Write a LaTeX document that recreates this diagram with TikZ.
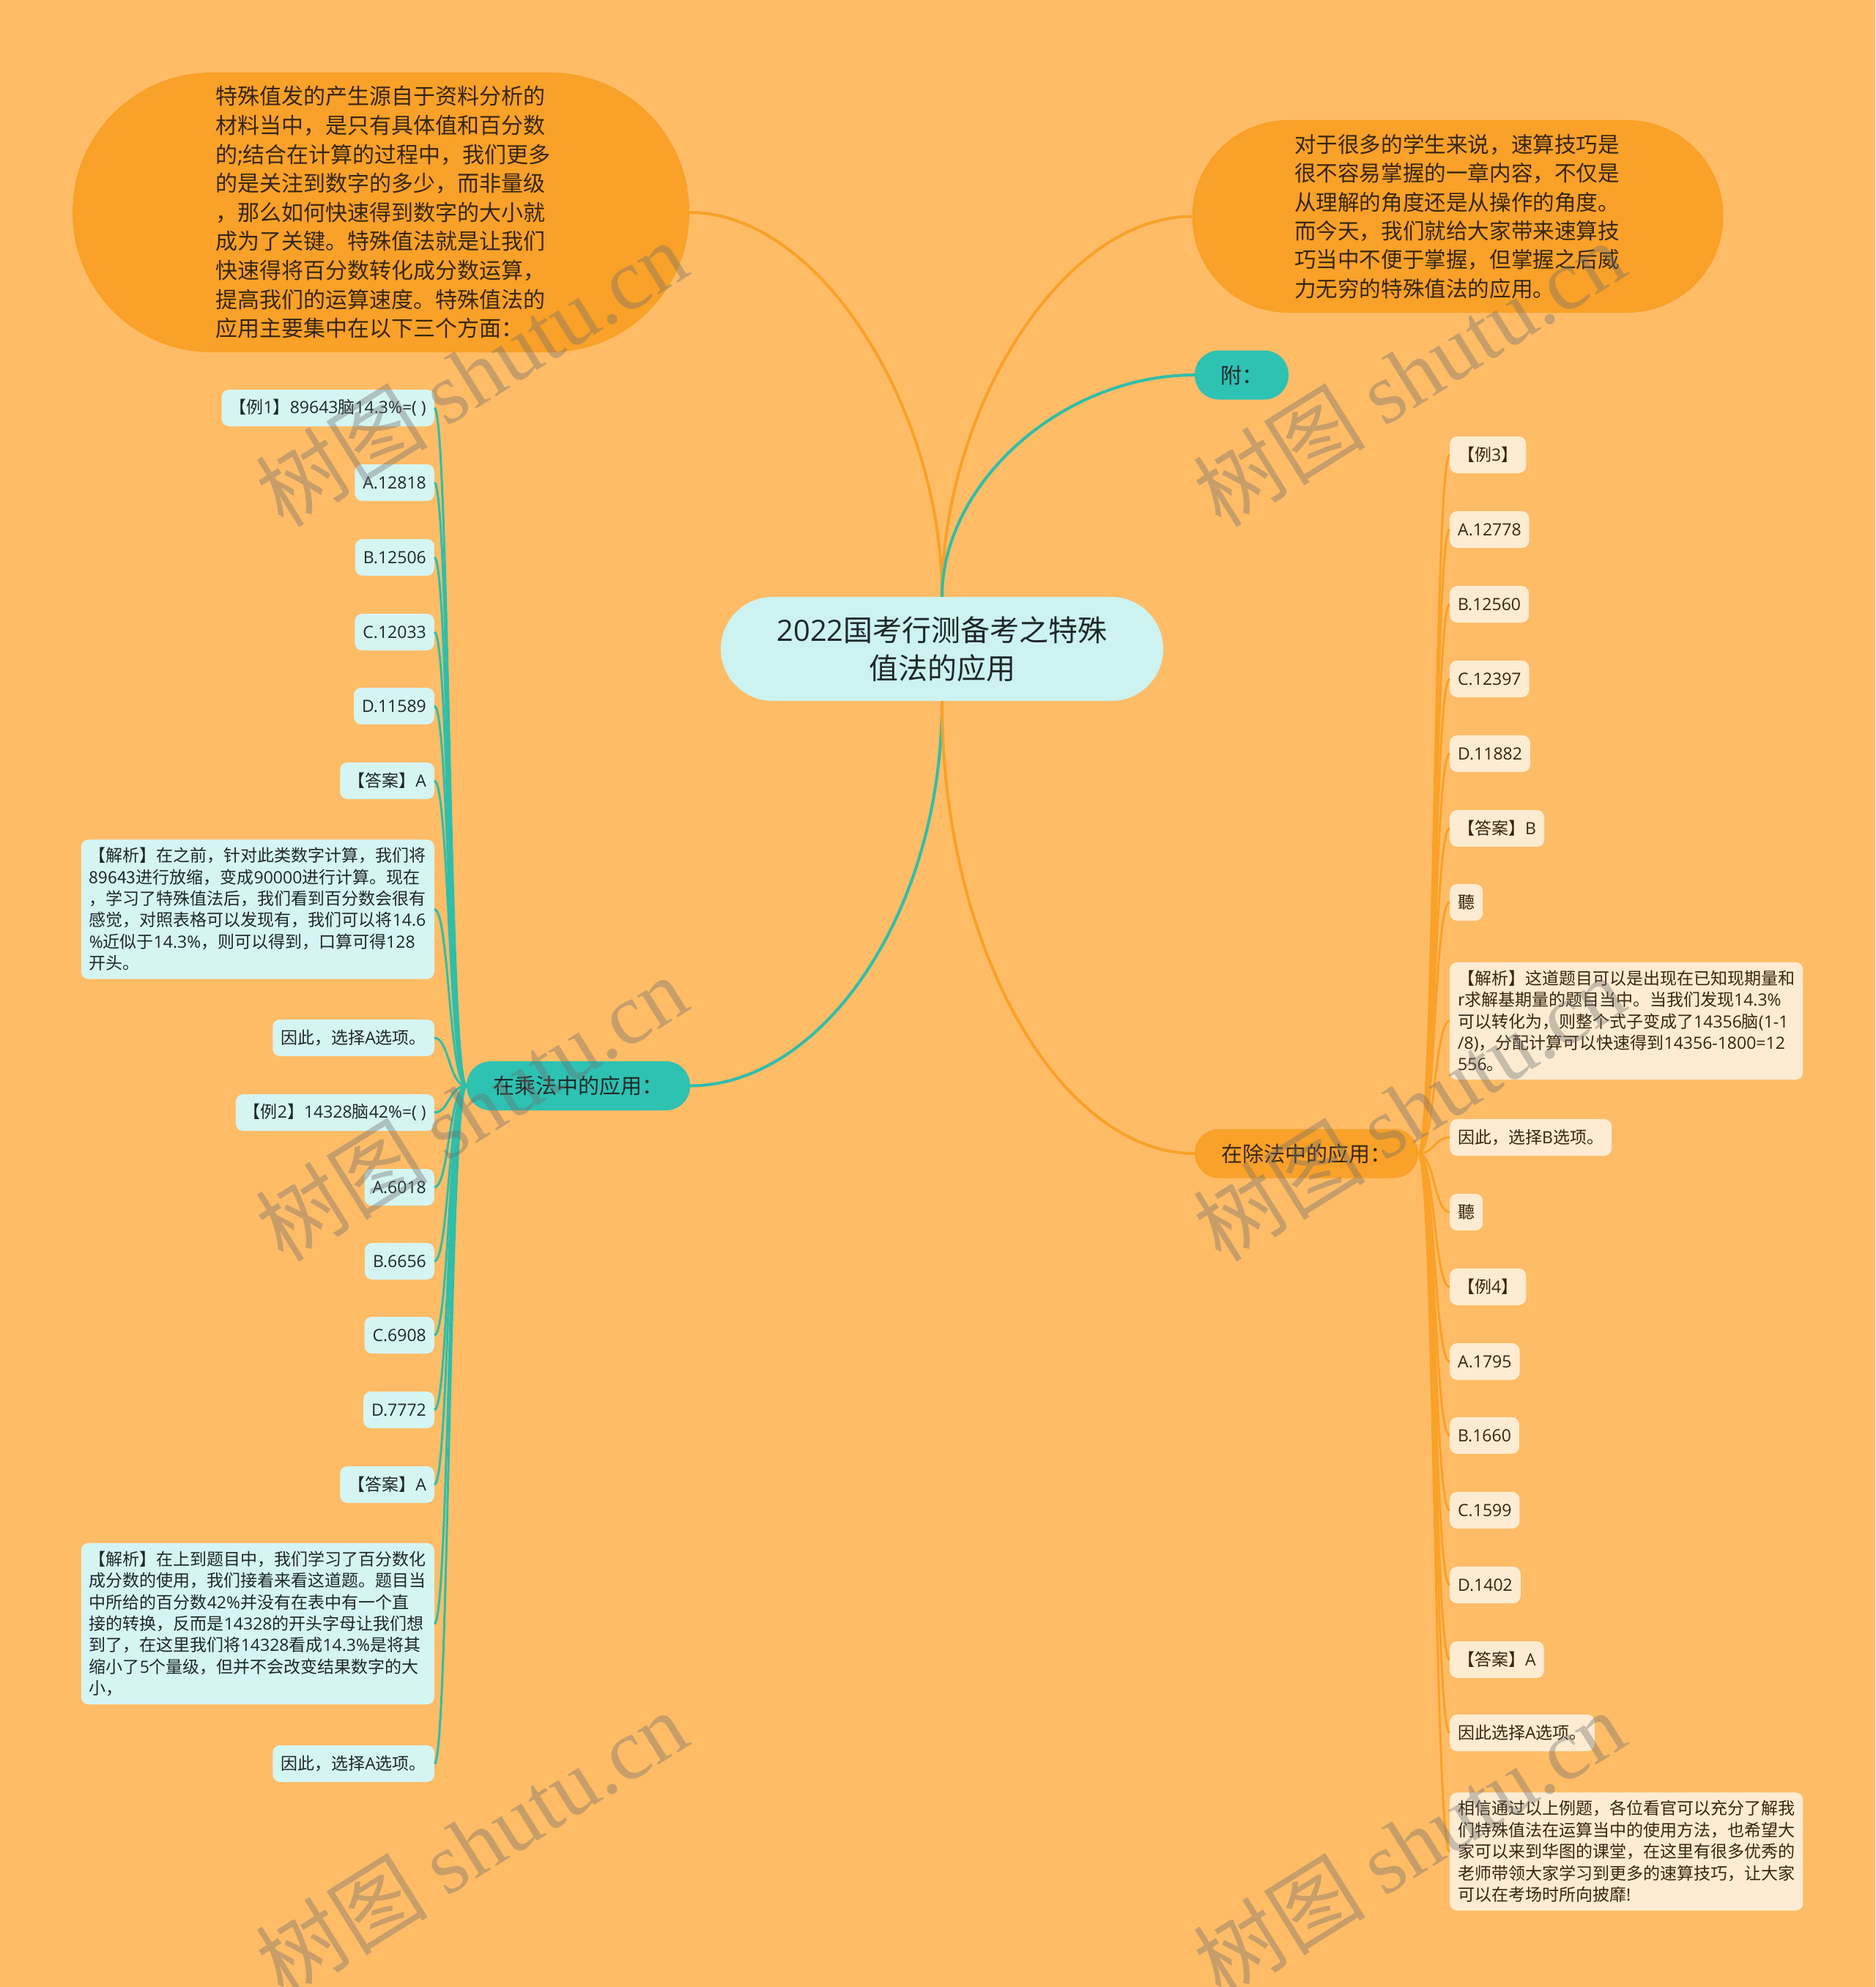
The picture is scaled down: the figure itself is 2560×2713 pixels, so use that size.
\documentclass[tikz,border=0pt]{standalone}
\usepackage{fontspec}
\setmainfont{Open Sans}
\newfontfamily\cjkf{Noto Sans CJK SC}
\newfontfamily\latf{Open Sans}
\newfontfamily\wmserif{Liberation Serif}
\XeTeXinterchartokenstate=1
\newXeTeXintercharclass\CJKcls
\newcount\mycc
\def\setcjkrange#1#2{\mycc=#1\relax\loop\XeTeXcharclass\mycc=\CJKcls\advance\mycc by 1\relax\ifnum\mycc<#2\relax\repeat}
\setcjkrange{"3000}{"3040}
\setcjkrange{"4E00}{"A000}
\setcjkrange{"FF00}{"FFF0}
\XeTeXinterchartoks 0 \CJKcls = {\cjkf}
\XeTeXinterchartoks 4095 \CJKcls = {\cjkf}
\XeTeXinterchartoks \CJKcls 0 = {\latf}

\definecolor{bgC}{RGB}{255,188,103}
\definecolor{orC}{RGB}{249,161,40}
\definecolor{tlC}{RGB}{45,194,178}
\definecolor{tlL}{RGB}{46,190,170}
\definecolor{ctrC}{RGB}{204,243,240}
\definecolor{leafC}{RGB}{213,245,243}
\definecolor{leafO}{RGB}{253,236,210}
\definecolor{txtT}{RGB}{30,40,40}
\definecolor{txtO}{RGB}{55,38,18}
\definecolor{wmC}{RGB}{110,110,110}

\tikzset{
  lleaf/.style={fill=leafC, text=txtT, rounded corners=10pt, inner xsep=11pt, inner ysep=0pt,
    minimum height=50pt, font=\fontsize{23}{29.4}\selectfont, anchor=east},
  rleaf/.style={fill=leafO, text=txtO, rounded corners=10pt, inner xsep=11pt, inner ysep=0pt,
    minimum height=50pt, font=\fontsize{23}{29.4}\selectfont, anchor=west},
  para/.style={align=left, text width=460pt, inner ysep=11pt},
  ctrnode/.style={fill=ctrC, text=txtT, rounded corners=71pt, minimum width=604pt, minimum height=142pt,
    align=center, font=\fontsize{40}{52}\selectfont},
  bignode/.style={fill=orC, text=txtO, align=left},
  midT/.style={fill=tlC, text=txtT, rounded corners=33pt, minimum height=67pt,
    font=\fontsize{29}{34}\selectfont},
  midO/.style={fill=orC, text=txtO, rounded corners=33pt, minimum height=67pt,
    font=\fontsize{29}{34}\selectfont},
  oline/.style={draw=orC, line width=4pt},
  tline/.style={draw=tlL, line width=4pt},
  othin/.style={draw=orC, line width=3pt},
  tthin/.style={draw=tlL, line width=3pt},
  wm/.style={text=wmC, text opacity=0.38, rotate=32, font=\fontsize{118}{130}\selectfont}
}

\begin{document}
\begin{tikzpicture}[x=1pt, y=-1pt]
\useasboundingbox (0,0) rectangle (2560,2713);
\fill[bgC] (0,0) rectangle (2560,2713);

% main nodes
\node[ctrnode] (c) at (1286,886) {2022国考行测备考之特殊\\值法的应用};
\node[bignode, rounded corners=190pt, minimum width=842pt, minimum height=382pt, text width=452pt,
  font=\fontsize{30}{39.6}\selectfont] (bigL) at (520,290)
 {特殊值发的产生源自于资料分析的\\材料当中，是只有具体值和百分数\\的;结合在计算的过程中，我们更多\\的是关注到数字的多少，而非量级\\，那么如何快速得到数字的大小就\\成为了关键。特殊值法就是让我们\\快速得将百分数转化成分数运算，\\提高我们的运算速度。特殊值法的\\应用主要集中在以下三个方面：};
\node[bignode, rounded corners=131pt, minimum width=725pt, minimum height=263pt, text width=446pt,
  font=\fontsize{29.6}{39.4}\selectfont] (bigR) at (1990,295.5)
 {对于很多的学生来说，速算技巧是\\很不容易掌握的一章内容，不仅是\\从理解的角度还是从操作的角度。\\而今天，我们就给大家带来速算技\\巧当中不便于掌握，但掌握之后威\\力无穷的特殊值法的应用。};
\node[midT, minimum width=128pt] (fu) at (1695,512) {附：};
\node[midT, minimum width=305pt] (cheng) at (789.5,1482.5) {在乘法中的应用：};
\node[midO, minimum width=305pt] (chu) at (1783.5,1575) {在除法中的应用：};

% main connectors
\draw[oline] (c.north) .. controls (1286,560) and (1120,290) .. (bigL.east);
\draw[oline] (c.north) .. controls (1286,560) and (1450,295.5) .. (bigR.west);
\draw[tline] (c.north) .. controls (1286,660) and (1450,512) .. (fu.west);
\draw[tline] (c.south) .. controls (1286,1250) and (1120,1482.5) .. (cheng.east);
\draw[oline] (c.south) .. controls (1286,1300) and (1450,1575) .. (chu.west);

% left leaves
\node[lleaf] (l1) at (593,557) {【例1】89643脑14.3\%=( )};
\node[lleaf] (l2) at (593,659) {A.12818};
\node[lleaf] (l3) at (593,761) {B.12506};
\node[lleaf] (l4) at (593,863) {C.12033};
\node[lleaf] (l5) at (593,964) {D.11589};
\node[lleaf] (l6) at (593,1066) {【答案】A};
\node[lleaf, para] (l7) at (593,1241.5) {【解析】在之前，针对此类数字计算，我们将\\89643进行放缩，变成90000进行计算。现在\\，学习了特殊值法后，我们看到百分数会很有\\感觉，对照表格可以发现有，我们可以将14.6\\\%近似于14.3\%，则可以得到，口算可得128\\开头。};
\node[lleaf] (l8) at (593,1417) {因此，选择A选项。};
\node[lleaf] (l9) at (593,1519) {【例2】14328脑42\%=( )};
\node[lleaf] (l10) at (593,1621) {A.6018};
\node[lleaf] (l11) at (593,1722) {B.6656};
\node[lleaf] (l12) at (593,1823) {C.6908};
\node[lleaf] (l13) at (593,1925) {D.7772};
\node[lleaf] (l14) at (593,2027) {【答案】A};
\node[lleaf, para] (l15) at (593,2217) {【解析】在上到题目中，我们学习了百分数化\\成分数的使用，我们接着来看这道题。题目当\\中所给的百分数42\%并没有在表中有一个直\\接的转换，反而是14328的开头字母让我们想\\到了，在这里我们将14328看成14.3\%是将其\\缩小了5个量级，但并不会改变结果数字的大\\小，};
\node[lleaf] (l16) at (593,2408) {因此，选择A选项。};

% right leaves
\node[rleaf] (r1) at (1979,621) {【例3】};
\node[rleaf] (r2) at (1979,723) {A.12778};
\node[rleaf] (r3) at (1979,825) {B.12560};
\node[rleaf] (r4) at (1979,927) {C.12397};
\node[rleaf] (r5) at (1979,1029) {D.11882};
\node[rleaf] (r6) at (1979,1131) {【答案】B};
\node[rleaf] (r7) at (1979,1232) {聽};
\node[rleaf, para] (r8) at (1979,1394) {【解析】这道题目可以是出现在已知现期量和\\r求解基期量的题目当中。当我们发现14.3\%\\可以转化为，则整个式子变成了14356脑(1-1\\/8)，分配计算可以快速得到14356-1800=12\\556。};
\node[rleaf] (r9) at (1979,1553) {因此，选择B选项。};
\node[rleaf] (r10) at (1979,1655) {聽};
\node[rleaf] (r11) at (1979,1757) {【例4】};
\node[rleaf] (r12) at (1979,1859) {A.1795};
\node[rleaf] (r13) at (1979,1960) {B.1660};
\node[rleaf] (r14) at (1979,2062) {C.1599};
\node[rleaf] (r15) at (1979,2164) {D.1402};
\node[rleaf] (r16) at (1979,2266) {【答案】A};
\node[rleaf] (r17) at (1979,2366) {因此选择A选项。};
\node[rleaf, para] (r18) at (1979,2528) {相信通过以上例题，各位看官可以充分了解我\\们特殊值法在运算当中的使用方法，也希望大\\家可以来到华图的课堂，在这里有很多优秀的\\老师带领大家学习到更多的速算技巧，让大家\\可以在考场时所向披靡!};

% leaf connectors
\coordinate (lbus) at (613,1482.5);
\coordinate (rbus) at (1958,1575);
\foreach \n in {l1,l2,l3,l4,l5,l6,l7,l8,l9,l10,l11,l12,l13,l14,l15,l16}
  \draw[tthin] (cheng.west) .. controls (lbus) and (\n.east -| lbus) .. (\n.east);
\foreach \n in {r1,r2,r3,r4,r5,r6,r7,r8,r9,r10,r11,r12,r13,r14,r15,r16,r17,r18}
  \draw[othin] (chu.east) .. controls (rbus) and (\n.west -| rbus) .. (\n.west);

% watermarks
\foreach \p/\q in {643/510, 1923/510, 643/1513, 1923/1513, 643/2517, 1923/2517}
  \node[wm] (wm\p\q) at (\p,\q) {\XeTeXinterchartokenstate=0\relax\cjkf 树图 \wmserif shutu.cn};
\end{tikzpicture}
\end{document}
